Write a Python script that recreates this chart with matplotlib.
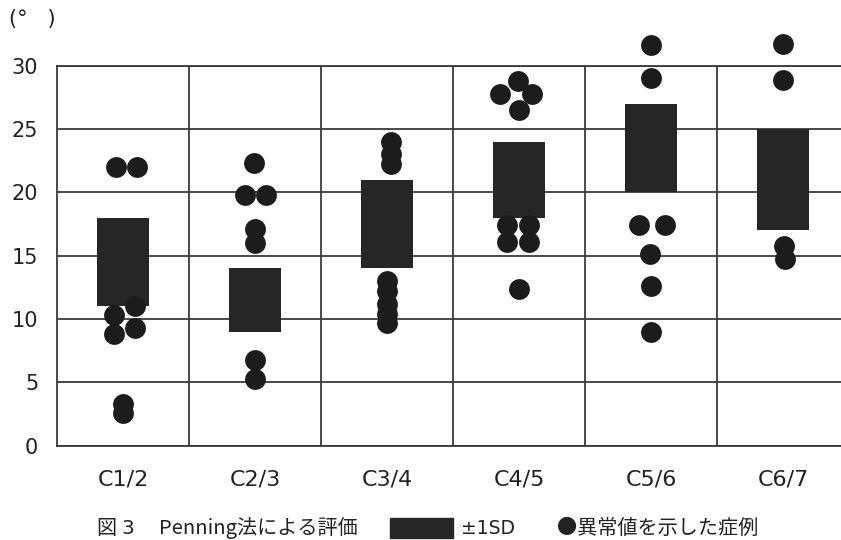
import numpy as np
import matplotlib.pyplot as plt
from matplotlib.patches import Rectangle

plt.rcParams['font.family'] = ['Noto Sans CJK JP', 'DejaVu Sans']

# Penning method, +-1SD range per level
categories = ['C1/2', 'C2/3', 'C3/4', 'C4/5', 'C5/6', 'C6/7']
sd_low = [11, 9, 14, 18, 20, 17]
sd_high = [18, 14, 21, 24, 27, 25]
y_ticks = [0, 5, 10, 15, 20, 25, 30]

# abnormal cases (degrees) for each level
out_c12 = [22.0, 22.0, 10.3, 8.8, 11.0, 9.3, 3.3, 2.6]
out_c23 = [22.3, 19.8, 19.8, 17.1, 16.0, 6.8, 5.3]
out_c34 = [24.0, 23.0, 22.2, 13.0, 12.2, 11.2, 10.4, 9.7]
out_c45 = [28.8, 27.8, 27.8, 26.5, 17.4, 17.4, 16.1, 16.1, 12.4]
out_c56 = [31.6, 29.0, 17.4, 17.4, 15.1, 12.6, 9.0]
out_c67 = [31.7, 28.9, 15.8, 14.7]
outliers = [out_c12, out_c23, out_c34, out_c45, out_c56, out_c67]

# sideways shift of each dot so overlapping ones stay visible (px)
shift_c12 = [-7, 14, -9, -9, 12, 12, 0, 0]
shift_c23 = [-1, -10, 11, 0, 0, 0, 0]
shift_c34 = [4, 4, 4, 0, 0, 0, 0, 0]
shift_c45 = [-1, -19, 13, 0, -12, 10, -12, 10, 0]
shift_c56 = [0, 0, -12, 14, -1, 0, 0]
shift_c67 = [0, 0, 1, 2]
shifts = [shift_c12, shift_c23, shift_c34, shift_c45, shift_c56, shift_c67]

px_per_cat = 132.0
line_col = '#3a3a3a'
mark_col = '#262626'
text_col = '#222222'

fig = plt.figure(figsize=(8.41, 5.40), dpi=100)
ax = fig.add_axes([57/841, 1 - 445.7/540, 792/841, 380/540])

x = np.arange(len(categories))
ax.bar(x, np.array(sd_high) - np.array(sd_low), bottom=sd_low, width=0.4,
       color=mark_col, zorder=3)

for i in range(len(categories)):
    xs = i + np.array(shifts[i]) / px_per_cat
    ax.plot(xs, outliers[i], 'o', ms=15, color='#1c1c1c', mec='none',
            zorder=4, clip_on=False)

ax.set_xlim(-0.5, 5.5)
ax.set_ylim(0, 30)
ax.set_yticks(y_ticks)
ax.set_yticklabels([str(v) for v in y_ticks], fontsize=15, color=text_col,
                   family='DejaVu Sans')
ax.set_xticks(x)
ax.set_xticklabels(categories, fontsize=16, color=text_col, family='DejaVu Sans')
ax.tick_params(axis='y', length=0, pad=13.5)
ax.tick_params(axis='x', length=0, pad=17)

ax.grid(axis='y', color=line_col, lw=1.3, zorder=1)
for b in np.arange(0.5, 5.5, 1):
    ax.axvline(b, color=line_col, lw=1.3, zorder=1)
for s in ax.spines.values():
    s.set_color(line_col)
    s.set_linewidth(1.3)

fig.text(32/841, 1 - 19/540, '(°   )', fontsize=15, ha='center', va='center',
         family='DejaVu Sans', color=text_col)

# caption line with the hand-made legend
fig.text(96/841, 1 - 528/540, '図', fontsize=14.5, va='center', color=text_col)
fig.text(121/841, 1 - 528/540, '3', fontsize=14.5, va='center', color=text_col,
         family='DejaVu Sans')
fig.text(159/841, 1 - 528/540, 'Penning法による評価', fontsize=14.5,
         va='center', color=text_col)
fig.add_artist(Rectangle((390/841, 1 - 537.5/540), 63/841, 20/540,
                         transform=fig.transFigure, color=mark_col))
fig.text(461/841, 1 - 528/540, '±1SD', fontsize=13.5, va='center', color=text_col,
         family='DejaVu Sans')
fig.text(557/841, 1 - 528/540, '●異常値を示した症例', fontsize=14.5, va='center',
         color=text_col)

fig.savefig('out.png', dpi=100)
